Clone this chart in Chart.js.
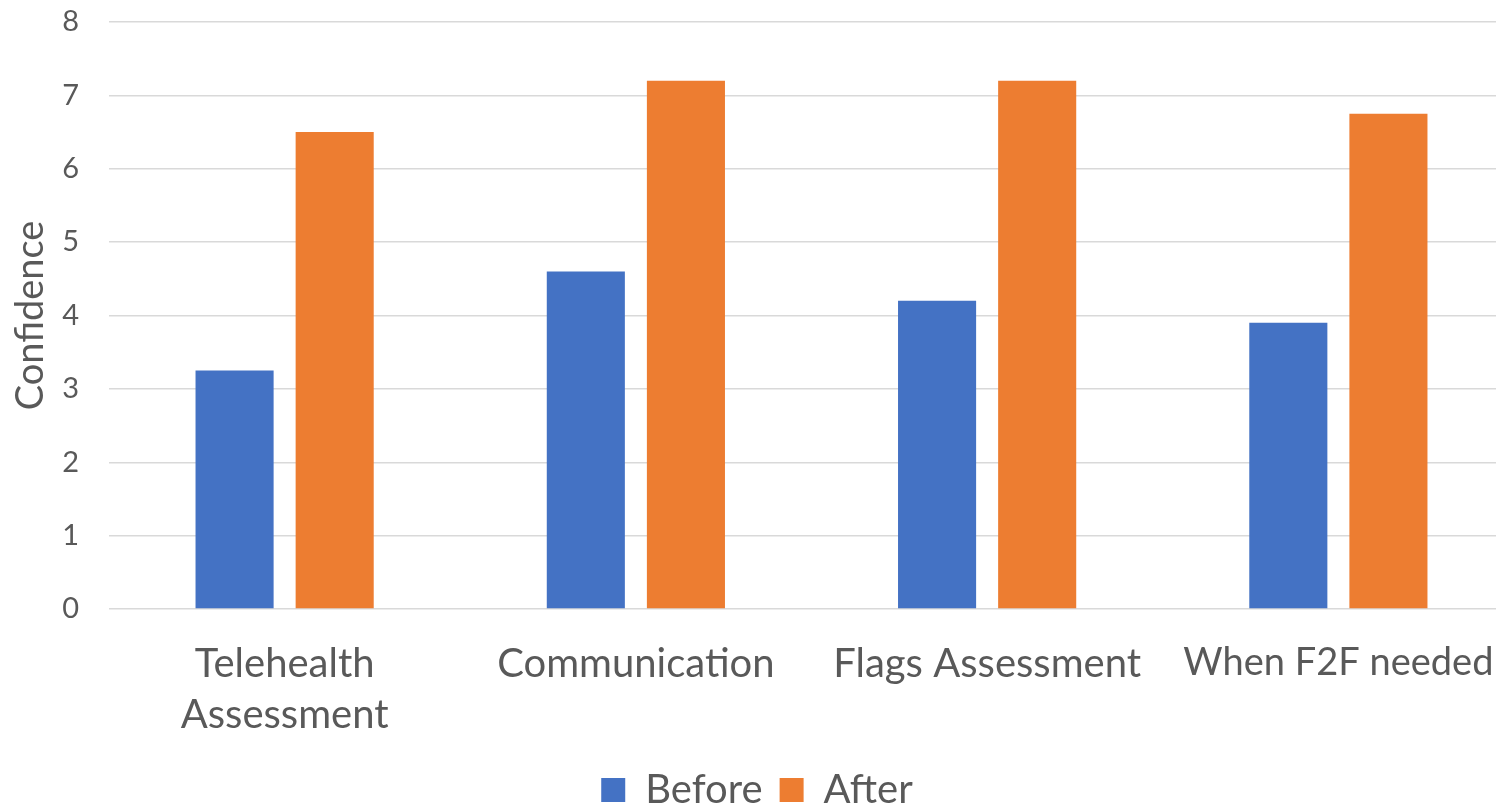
<!DOCTYPE html>
<html>
<head>
<meta charset="utf-8">
<script src="https://cdn.jsdelivr.net/npm/chart.js@4/dist/chart.umd.min.js"></script>
<style>
    html, body { margin: 0; padding: 0; background: #ffffff; overflow: hidden; }
    /* plot area runs a little past the right edge, like the original crop */
    #wrap { width: 1514px; height: 809px; position: relative; }
</style>
</head>
<body>
<div id="wrap"><canvas id="chart"></canvas></div>
<script>
const categories = [['Telehealth', 'Assessment'], 'Communication', 'Flags Assessment', 'When F2F needed'];
const beforeValues = [3.25, 4.6, 4.2, 3.9];
const afterValues = [6.5, 7.2, 7.2, 6.75];
const yTicks = [0, 1, 2, 3, 4, 5, 6, 7, 8];

const textColor = '#595959';
Chart.defaults.font.family = "Lato, 'Open Sans', sans-serif";
Chart.defaults.color = textColor;

const ctx = document.getElementById('chart');

let myChart = new Chart(ctx, {
    type: 'bar',
    data: {
        labels: categories,
        datasets: [
            {
                label: 'Before',
                data: beforeValues,
                backgroundColor: '#4472C4',
                categoryPercentage: 0.57,
                barPercentage: 0.78,
            },
            {
                label: 'After',
                data: afterValues,
                backgroundColor: '#ED7D31',
                categoryPercentage: 0.57,
                barPercentage: 0.78,
            },
        ],
    },
    options: {
        animation: false,
        responsive: true,
        maintainAspectRatio: false,
        layout: {
            padding: { top: 22, right: 0, left: 0, bottom: -11 }
        },
        scales: {
            x: {
                grid: { display: false },
                border: { display: false },
                ticks: {
                    // last label is a touch wider in Lato, shrink it so it stays on the page
                    font: (c) => ({ size: c.index === 3 ? 38 : 40, lineHeight: 1.27 }),
                    color: textColor,
                    padding: 22,
                    maxRotation: 0,
                    autoSkip: false,
                },
                afterFit: (scale) => {
                    scale.height = 144;
                    // labels fit inside their categories, no side padding wanted
                    scale.paddingLeft = 0;
                    scale.paddingRight = 0;
                },
            },
            y: {
                min: 0,
                max: 8,
                afterBuildTicks: (scale) => {
                    scale.ticks = yTicks.map(v => ({ value: v }));
                },
                grid: {
                    color: '#d9d9d9',
                    lineWidth: 1.5,
                    drawTicks: false,
                },
                border: { display: false },
                ticks: {
                    font: { size: 29 },
                    color: textColor,
                    padding: 30,
                },
                title: {
                    display: true,
                    text: 'Confidence',
                    font: { size: 38 },
                    color: textColor,
                    padding: { top: 8, bottom: 0 },
                },
                afterFit: (scale) => {
                    scale.width = 109;
                    scale.paddingTop = 0;
                    scale.paddingBottom = 0;
                },
            },
        },
        plugins: {
            legend: {
                display: true,
                position: 'bottom',
                labels: {
                    font: { size: 40 },
                    color: textColor,
                    boxWidth: 24,
                    boxHeight: 24,
                    padding: 17,
                },
            },
            tooltip: { enabled: false },
        },
    },
});
</script>
</body>
</html>
